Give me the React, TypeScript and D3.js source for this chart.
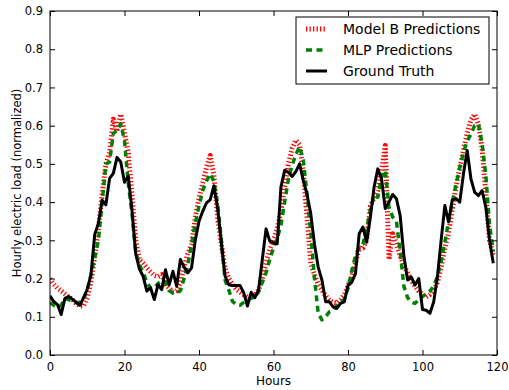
import React, { useEffect, useRef } from 'react';
import * as d3 from 'd3';

// hourly load, normalized (x = hour index 0..119)
const groundTruth = [
  0.155, 0.140, 0.132, 0.106, 0.148, 0.153, 0.146, 0.138, 0.130, 0.150,
  0.172, 0.210, 0.315, 0.345, 0.405, 0.393, 0.462, 0.475, 0.517, 0.505,
  0.452, 0.468, 0.380, 0.265, 0.225, 0.206, 0.167, 0.176, 0.145, 0.184,
  0.171, 0.223, 0.184, 0.219, 0.180, 0.250, 0.230, 0.215, 0.228, 0.300,
  0.350, 0.376, 0.398, 0.406, 0.443, 0.384, 0.293, 0.206, 0.184, 0.182,
  0.182, 0.182, 0.163, 0.128, 0.164, 0.150, 0.171, 0.250, 0.330, 0.298,
  0.293, 0.291, 0.440, 0.483, 0.478, 0.467, 0.480, 0.500, 0.457, 0.420,
  0.370, 0.290, 0.230, 0.196, 0.139, 0.139, 0.126, 0.122, 0.135, 0.139,
  0.182, 0.190, 0.213, 0.317, 0.335, 0.295, 0.361, 0.439, 0.487, 0.461,
  0.383, 0.400, 0.420, 0.409, 0.365, 0.260, 0.196, 0.204, 0.183, 0.200,
  0.119, 0.117, 0.109, 0.139, 0.204, 0.300, 0.391, 0.348, 0.406, 0.409,
  0.400, 0.474, 0.535, 0.461, 0.426, 0.417, 0.430, 0.387, 0.300, 0.240,
];

const modelB = [
  0.200, 0.185, 0.175, 0.168, 0.160, 0.152, 0.145, 0.135, 0.128, 0.128,
  0.150, 0.192, 0.256, 0.330, 0.420, 0.500, 0.530, 0.617, 0.585, 0.630,
  0.580, 0.530, 0.420, 0.300, 0.250, 0.240, 0.228, 0.218, 0.208, 0.205,
  0.210, 0.185, 0.175, 0.165, 0.168, 0.190, 0.230, 0.265, 0.290, 0.360,
  0.410, 0.450, 0.490, 0.522, 0.470, 0.360, 0.290, 0.225, 0.200, 0.185,
  0.172, 0.165, 0.158, 0.152, 0.154, 0.156, 0.170, 0.200, 0.240, 0.275,
  0.300, 0.330, 0.375, 0.440, 0.500, 0.540, 0.562, 0.550, 0.480, 0.360,
  0.240, 0.210, 0.185, 0.170, 0.155, 0.143, 0.138, 0.136, 0.145, 0.158,
  0.180, 0.205, 0.240, 0.280, 0.280, 0.300, 0.390, 0.410, 0.430, 0.480,
  0.548, 0.250, 0.317, 0.290, 0.260, 0.235, 0.215, 0.195, 0.180, 0.167,
  0.158, 0.152, 0.158, 0.170, 0.190, 0.230, 0.280, 0.320, 0.380, 0.440,
  0.490, 0.535, 0.580, 0.615, 0.630, 0.604, 0.540, 0.420, 0.300, 0.260,
];

const mlp = [
  0.137, 0.130, 0.125, 0.130, 0.148, 0.145, 0.140, 0.137, 0.138, 0.145,
  0.170, 0.210, 0.255, 0.300, 0.400, 0.500, 0.505, 0.580, 0.587, 0.605,
  0.560, 0.450, 0.370, 0.270, 0.235, 0.217, 0.190, 0.175, 0.175, 0.187,
  0.195, 0.190, 0.168, 0.162, 0.162, 0.168, 0.200, 0.235, 0.290, 0.345,
  0.390, 0.430, 0.455, 0.474, 0.455, 0.395, 0.300, 0.196, 0.170, 0.140,
  0.132, 0.130, 0.138, 0.145, 0.148, 0.152, 0.165, 0.190, 0.215, 0.250,
  0.280, 0.305, 0.340, 0.400, 0.460, 0.496, 0.525, 0.545, 0.510, 0.420,
  0.320, 0.200, 0.110, 0.092, 0.100, 0.113, 0.117, 0.130, 0.140, 0.145,
  0.175, 0.220, 0.260, 0.283, 0.290, 0.330, 0.380, 0.418, 0.413, 0.465,
  0.483, 0.387, 0.361, 0.350, 0.270, 0.180, 0.150, 0.138, 0.135, 0.145,
  0.153, 0.160, 0.167, 0.180, 0.205, 0.245, 0.295, 0.350, 0.400, 0.445,
  0.490, 0.530, 0.560, 0.578, 0.600, 0.605, 0.552, 0.470, 0.340, 0.270,
];

const xTicks = [0, 20, 40, 60, 80, 100, 120];
const yTicks = [0, 0.1, 0.2, 0.3, 0.4, 0.5, 0.6, 0.7, 0.8, 0.9];

const series = [
  { name: 'Model B Predictions', values: modelB, color: '#ff0000', width: 5, dash: '1.3,2.2' },
  { name: 'MLP Predictions', values: mlp, color: '#008000', width: 3.5, dash: '6,4.5' },
  { name: 'Ground Truth', values: groundTruth, color: '#000000', width: 3, dash: null },
];

const App = () => {
  const ref = useRef<SVGSVGElement>(null);

  useEffect(() => {
    const width = 509;
    const height = 390;
    const margin = { top: 11, right: 12, bottom: 35, left: 50 };
    const font = '"DejaVu Sans", sans-serif';

    const svg = d3.select(ref.current);
    svg.selectAll('*').remove();

    const x = d3.scaleLinear().domain([0, 120]).range([margin.left, width - margin.right]);
    const y = d3.scaleLinear().domain([0, 0.9]).range([height - margin.bottom, margin.top]);

    svg.append('defs').append('clipPath').attr('id', 'plot-clip')
      .append('rect')
      .attr('x', x(0)).attr('y', y(0.9))
      .attr('width', x(120) - x(0)).attr('height', y(0) - y(0.9));

    const line = d3.line<number>()
      .x((d, i) => x(i))
      .y(d => y(d));

    const lines = svg.append('g').attr('clip-path', 'url(#plot-clip)');
    series.forEach(s => {
      lines.append('path')
        .attr('d', line(s.values))
        .attr('fill', 'none')
        .attr('stroke', s.color)
        .attr('stroke-width', s.width)
        .attr('stroke-dasharray', s.dash)
        .attr('stroke-linejoin', 'round');
    });

    // axes, ticks pointing inwards on all four sides
    const tickLen = 5;
    const styleAxis = (g, noLabels) => {
      g.select('.domain').remove();
      g.selectAll('line').attr('stroke', '#000');
      g.selectAll('text').attr('font-family', font).attr('font-size', 11.5).attr('fill', '#000');
      if (noLabels) g.selectAll('text').remove();
    };

    svg.append('g')
      .attr('transform', `translate(0,${y(0)})`)
      .call(d3.axisBottom(x).tickValues(xTicks).tickSizeInner(-tickLen).tickSizeOuter(0).tickPadding(8))
      .call(g => styleAxis(g, false));
    svg.append('g')
      .attr('transform', `translate(0,${y(0.9)})`)
      .call(d3.axisTop(x).tickValues(xTicks).tickSizeInner(-tickLen).tickSizeOuter(0))
      .call(g => styleAxis(g, true));
    svg.append('g')
      .attr('transform', `translate(${x(0)},0)`)
      .call(d3.axisLeft(y).tickValues(yTicks).tickFormat(d3.format('.1f')).tickSizeInner(-tickLen).tickSizeOuter(0).tickPadding(7))
      .call(g => styleAxis(g, false));
    svg.append('g')
      .attr('transform', `translate(${x(120)},0)`)
      .call(d3.axisRight(y).tickValues(yTicks).tickSizeInner(-tickLen).tickSizeOuter(0))
      .call(g => styleAxis(g, true));

    svg.append('rect')
      .attr('x', x(0)).attr('y', y(0.9))
      .attr('width', x(120) - x(0)).attr('height', y(0) - y(0.9))
      .attr('fill', 'none').attr('stroke', '#000').attr('stroke-width', 1);

    svg.append('text')
      .attr('x', (x(0) + x(120)) / 2).attr('y', 385)
      .attr('text-anchor', 'middle')
      .attr('font-family', font).attr('font-size', 12)
      .text('Hours');

    svg.append('text')
      .attr('transform', `translate(21,${(y(0) + y(0.9)) / 2}) rotate(-90)`)
      .attr('text-anchor', 'middle')
      .attr('font-family', font).attr('font-size', 11.5)
      .text('Hourly electric load (normalized)');

    // legend
    const legend = svg.append('g').attr('transform', 'translate(296,17)');
    legend.append('rect')
      .attr('width', 193).attr('height', 67)
      .attr('fill', '#fff').attr('stroke', '#000').attr('stroke-width', 1);
    series.forEach((s, i) => {
      const ly = 12 + i * 21;
      legend.append('line')
        .attr('x1', 10).attr('x2', 31).attr('y1', ly).attr('y2', ly)
        .attr('stroke', s.color)
        .attr('stroke-width', s.width)
        .attr('stroke-dasharray', s.dash);
      legend.append('text')
        .attr('x', 47).attr('y', ly + 5)
        .attr('font-family', font).attr('font-size', 14)
        .text(s.name);
    });
  }, []);

  return <svg ref={ref} width={509} height={390} style={{ position: 'absolute', left: 0, top: 0 }} />;
};

export default App;
